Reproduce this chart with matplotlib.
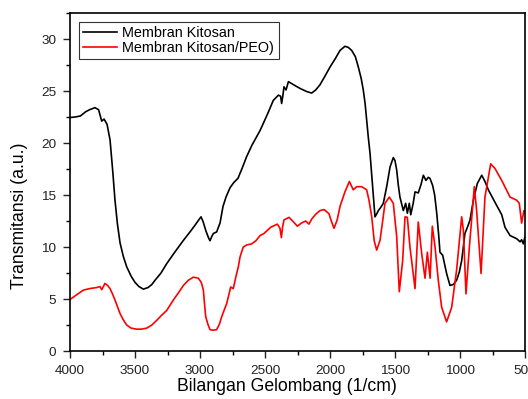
import matplotlib
matplotlib.use("Agg")
import matplotlib.pyplot as plt
from matplotlib.ticker import MultipleLocator

plt.rcParams['font.family'] = ['Liberation Sans', 'DejaVu Sans']

# Membran Kitosan (black)
wn_k = [4000, 3960, 3920, 3880, 3850, 3808, 3780, 3756, 3738, 3715, 3692, 3670, 3654, 3635,
        3615, 3590, 3564, 3530, 3500, 3470, 3436, 3400, 3370, 3346, 3300, 3256, 3200, 3130,
        3080, 3038, 3010, 2992, 2975, 2956, 2935, 2923, 2910, 2897, 2872, 2846, 2823, 2800,
        2769, 2740, 2708, 2675, 2641, 2600, 2538, 2480, 2436, 2397, 2380, 2372, 2362, 2354,
        2338, 2320, 2280, 2231, 2180, 2141, 2110, 2077, 2040, 2000, 1960, 1923, 1885, 1860,
        1833, 1805, 1782, 1760, 1744, 1730, 1718, 1705, 1692, 1672, 1654, 1640, 1628, 1610,
        1590, 1564, 1538, 1513, 1500, 1487, 1475, 1462, 1436, 1418, 1405, 1390, 1379, 1360,
        1346, 1321, 1300, 1282, 1262, 1244, 1231, 1210, 1195, 1179, 1165, 1154, 1133, 1118,
        1103, 1077, 1051, 1026, 1005, 987, 962, 940, 923, 897, 867, 833, 808, 782, 731, 679,
        654, 615, 564, 538, 526, 513, 500]
t_k = [22.45, 22.5, 22.6, 23.0, 23.2, 23.4, 23.2, 22.1, 22.3, 21.8, 20.3, 17.1, 14.5, 12.2,
       10.4, 9.1, 8.1, 7.2, 6.6, 6.2, 5.95, 6.1, 6.4, 6.8, 7.5, 8.4, 9.4, 10.6,
       11.4, 12.1, 12.6, 12.9, 12.4, 11.6, 10.9, 10.6, 11.0, 11.3, 11.45, 12.3, 13.9, 14.8,
       15.7, 16.2, 16.6, 17.6, 18.7, 19.8, 21.2, 22.8, 24.1, 24.6, 24.5, 23.8, 24.6, 25.4,
       25.1, 25.9, 25.6, 25.25, 24.95, 24.8, 25.1, 25.6, 26.4, 27.3, 28.1, 28.9, 29.3, 29.2,
       28.9, 28.3, 27.3, 26.2, 25.1, 23.8, 22.2, 20.5, 19.0, 15.8, 12.9, 13.2, 13.5, 13.8,
       14.2, 15.8, 17.7, 18.6, 18.3, 17.4, 16.0, 14.8, 13.5, 14.2, 13.25, 14.2, 13.1, 14.2,
       15.3, 15.2, 16.0, 16.9, 16.4, 16.7, 16.6, 15.9, 15.0, 13.25, 11.3, 9.5, 9.2, 8.3,
       7.45, 6.3, 6.4, 6.8, 7.6, 8.7, 11.3, 12.0, 12.6, 14.5, 16.1, 16.9, 16.3, 15.5, 14.3, 13.1,
       11.9, 11.1, 10.8, 10.5, 10.7, 10.3, 11.0]

# Membran Kitosan/PEO (red)
wn_p = [4000, 3950, 3897, 3850, 3795, 3770, 3756, 3731, 3710, 3692, 3670, 3654, 3615, 3590,
        3564, 3530, 3487, 3450, 3410, 3370, 3333, 3290, 3256, 3205, 3160, 3128, 3090, 3051,
        3013, 2990, 2974, 2965, 2956, 2940, 2923, 2900, 2872, 2850, 2833, 2815, 2795, 2780,
        2764, 2744, 2730, 2718, 2705, 2692, 2667, 2640, 2603, 2570, 2538, 2508, 2456, 2405,
        2385, 2374, 2365, 2354, 2315, 2280, 2251, 2220, 2187, 2162, 2140, 2110, 2077, 2046,
        2026, 2008, 1990, 1969, 1945, 1923, 1885, 1851, 1821, 1795, 1756, 1718, 1700, 1679,
        1660, 1641, 1615, 1595, 1577, 1544, 1513, 1487, 1467, 1441, 1423, 1405, 1385, 1346,
        1321, 1295, 1269, 1251, 1230, 1213, 1192, 1167, 1141, 1103, 1064, 1026, 987, 974,
        954, 928, 890, 872, 838, 808, 764, 731, 679, 615, 564, 544, 526, 508, 500]
t_p = [4.95, 5.4, 5.85, 6.0, 6.1, 6.2, 5.9, 6.5, 6.3, 6.0, 5.4, 4.9, 3.6, 3.0,
       2.5, 2.2, 2.1, 2.1, 2.2, 2.5, 2.95, 3.5, 3.9, 4.9, 5.7, 6.3, 6.8, 7.1,
       7.0, 6.6, 5.85, 4.5, 3.3, 2.6, 2.05, 2.0, 2.05, 2.6, 3.3, 3.9, 4.55, 5.3,
       6.15, 6.0, 6.8, 7.45, 8.1, 9.05, 10.0, 10.2, 10.3, 10.6, 11.1, 11.3, 11.9, 12.2,
       11.8, 10.9, 11.9, 12.6, 12.85, 12.4, 12.0, 12.3, 12.5, 12.2, 12.7, 13.15, 13.5, 13.6,
       13.4, 13.2, 12.5, 11.8, 12.6, 13.9, 15.3, 16.3, 15.5, 15.8, 15.8, 15.5, 14.5, 12.9,
       10.6, 9.7, 10.65, 12.5, 14.2, 14.8, 14.2, 11.0, 5.7, 8.7, 12.9, 12.85, 10.0, 6.0,
       12.4, 9.4, 7.0, 9.5, 7.0, 12.0, 10.0, 6.8, 4.2, 2.8, 4.2, 7.8, 12.9, 11.6,
       5.5, 10.0, 15.8, 13.5, 7.45, 14.8, 18.0, 17.55, 16.4, 14.8, 14.5, 14.2, 12.3, 13.5, 13.3]

labels = ['Membran Kitosan', 'Membran Kitosan/PEO)']

fig = plt.figure(figsize=(5.28, 3.99), dpi=100)
ax = fig.add_axes([70/528, 48/399, 455/528, 338/399])
ax.plot(wn_k, t_k, color='black', lw=1.2, label=labels[0])
ax.plot(wn_p, t_p, color='#ff0000', lw=1.2, label=labels[1])

ax.set_xlim(4000, 500)
ax.set_ylim(0, 32.5)
ax.xaxis.set_major_locator(MultipleLocator(500))
ax.xaxis.set_minor_locator(MultipleLocator(250))
ax.yaxis.set_major_locator(MultipleLocator(5))
ax.yaxis.set_minor_locator(MultipleLocator(2.5))
ax.tick_params(which='major', direction='out', length=5, width=1.0, labelsize=9.7,
               colors='#222222', pad=5)
ax.tick_params(which='minor', direction='out', length=3, width=1.0)
for s in ax.spines.values():
    s.set_linewidth(1.2)

ax.set_xlabel('Bilangan Gelombang (1/cm)', fontsize=12.7)
ax.set_ylabel('Transmitansi (a.u.)', fontsize=12.7)
ax.xaxis.set_label_coords(0.476, -0.080)
ax.yaxis.set_label_coords(-0.092, 0.40)

leg = ax.legend(loc='upper left', bbox_to_anchor=(9/455, 1 - 9/338), borderaxespad=0,
                fontsize=10.4, frameon=True, fancybox=False, handlelength=2.3,
                borderpad=0.3, labelspacing=0.05, handletextpad=0.4)
leg.get_frame().set_edgecolor('black')
leg.get_frame().set_linewidth(0.8)

fig.savefig('out.png', dpi=100)
